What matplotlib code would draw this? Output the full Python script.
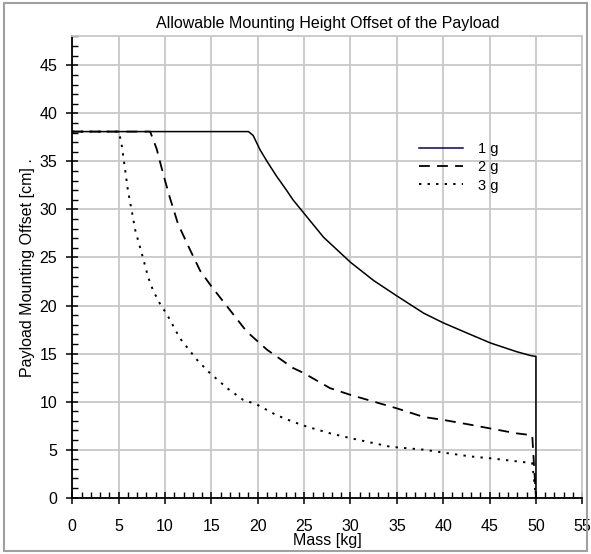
import numpy as np
import matplotlib
matplotlib.use("Agg")
import matplotlib.pyplot as plt
from matplotlib.ticker import MultipleLocator
from matplotlib.patches import Rectangle

plt.rcParams['font.family'] = ['Liberation Sans', 'DejaVu Sans']

# values
mass_1g = [0, 19.0, 19.5, 20.25, 21.0, 22.0, 23.1, 23.8, 24.9, 27.1, 30.0, 32.5, 35.0,
           37.9, 40.0, 42.9, 45.1, 47.9, 49.4, 50.0, 50.0]
off_1g = [38.1, 38.1, 37.7, 36.2, 35.0, 33.5, 32.0, 31.0, 29.7, 27.1, 24.5, 22.6, 21.0,
          19.2, 18.2, 17.0, 16.1, 15.2, 14.8, 14.7, 0]

mass_2g = [0, 8.4, 9.1, 9.8, 10.5, 11.4, 12.5, 13.8, 15.0, 16.7, 18.8, 21.0, 23.8, 24.9,
           27.8, 30.0, 32.5, 35.0, 37.9, 40.0, 42.9, 45.1, 47.9, 49.6, 50.0]
off_2g = [38.1, 38.1, 36.3, 33.7, 31.3, 28.5, 26.2, 23.6, 22.0, 19.9, 17.3, 15.4, 13.5, 13.0,
          11.4, 10.7, 10.0, 9.3, 8.4, 8.1, 7.6, 7.2, 6.7, 6.5, 0]

mass_3g = [0, 5.0, 5.3, 5.7, 6.0, 6.4, 6.8, 7.5, 8.2, 8.7, 9.5, 10.2, 11.6, 13.4, 14.7,
           16.7, 18.4, 19.9, 22.0, 23.8, 25.3, 27.8, 30.0, 34.3, 37.9, 40.0, 42.9, 45.1,
           49.6, 50.0]
off_3g = [38.1, 38.1, 36.9, 34.1, 32.0, 29.9, 27.8, 25.4, 22.9, 21.6, 20.1, 19.1, 16.6, 14.4,
          13.1, 11.4, 10.2, 9.7, 8.6, 7.9, 7.4, 6.7, 6.2, 5.3, 5.0, 4.7, 4.3, 4.1, 3.6, 0]

fig = plt.figure(figsize=(5.91, 5.54), dpi=100)
ax = fig.add_axes([0.1223, 0.1016, 0.863, 0.8326])

ax.plot(mass_1g, off_1g, color='black', lw=1.1, label='1 g')
ax.plot(mass_2g, off_2g, color='black', lw=1.3, dashes=(6, 4), label='2 g')
ax.plot(mass_3g, off_3g, color='black', lw=1.4, dashes=(1.2, 3.2), label='3 g')

ax.set_xlim(0, 55)
ax.set_ylim(0, 48)
ax.xaxis.set_major_locator(MultipleLocator(5))
ax.xaxis.set_minor_locator(MultipleLocator(1))
ax.yaxis.set_minor_locator(MultipleLocator(1))
ax.set_yticks(np.arange(0, 46, 5))
ax.grid(True, which='major', color='#c8c8c8', lw=1.3)
ax.set_axisbelow(True)

ax.tick_params(which='major', direction='inout', length=8, width=1.1, labelsize=11.5)
ax.tick_params(axis='x', which='major', pad=11)
ax.tick_params(axis='y', which='major', pad=7)
ax.tick_params(which='minor', direction='in', length=4, width=1)
for s in ['top', 'right']:
    ax.spines[s].set_color('#c8c8c8')
    ax.spines[s].set_linewidth(1.3)
for s in ['left', 'bottom']:
    ax.spines[s].set_linewidth(1.3)

ax.set_xlabel('Mass [kg]', fontsize=11.5, labelpad=-0.5)
ax.set_ylabel('Payload Mounting Offset [cm] .', fontsize=11.5, labelpad=3)
ax.set_title('Allowable Mounting Height Offset of the Payload', fontsize=11.5, pad=6)

leg = ax.legend(loc='upper left', bbox_to_anchor=(0.655, 0.80), frameon=False,
                fontsize=10.5, handlelength=3.0, handletextpad=1.0, labelspacing=0.3)
leg.get_lines()[0].set_color('#000080')

fig.patches.append(Rectangle((0.006, 0.006), 0.988, 0.988, transform=fig.transFigure,
                             fill=False, edgecolor='#a0a0a0', lw=1.5))

fig.savefig('out.png', dpi=100)
